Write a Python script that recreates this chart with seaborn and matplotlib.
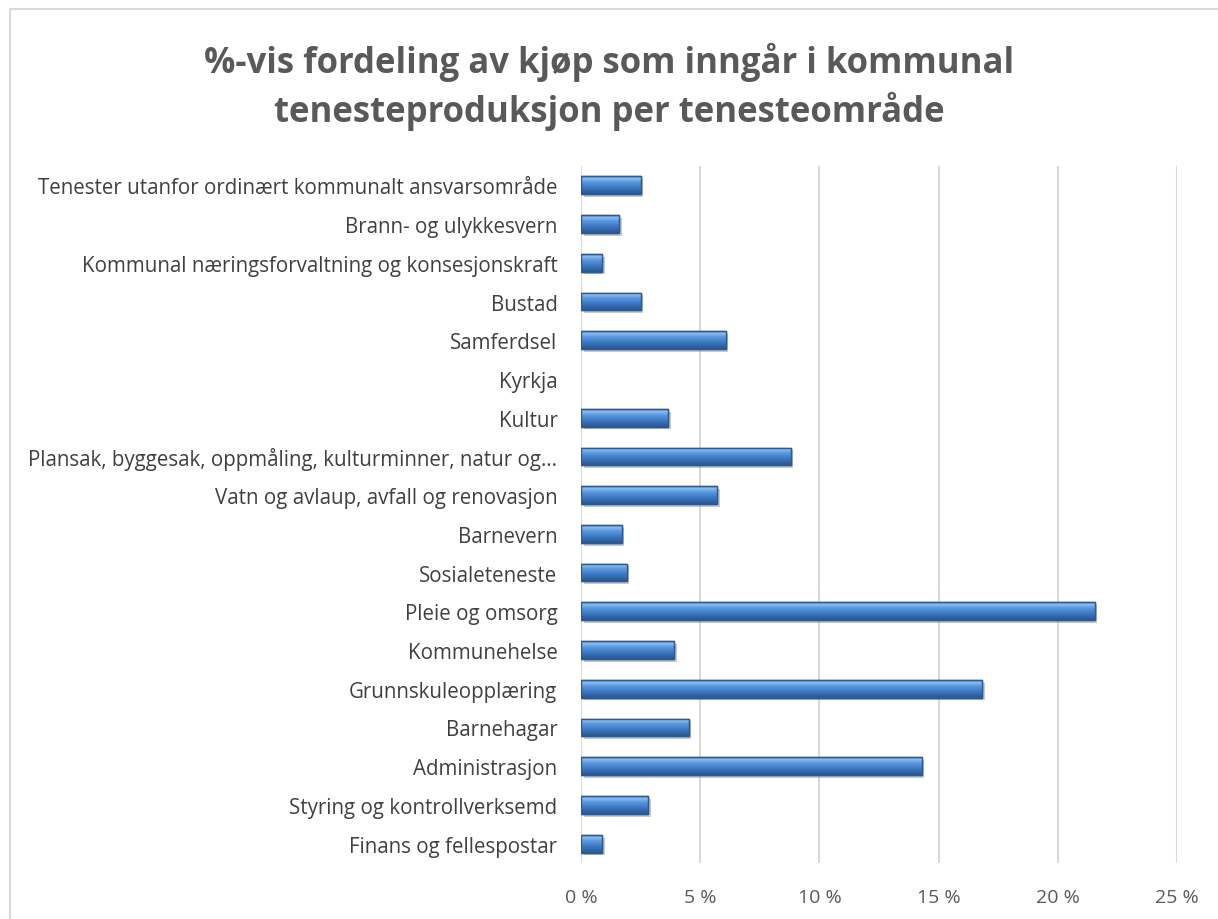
import matplotlib
matplotlib.use("Agg")
import matplotlib.pyplot as plt
import matplotlib.patheffects as pe
from matplotlib.patches import Rectangle
from matplotlib.colors import LinearSegmentedColormap
from matplotlib.ticker import FuncFormatter
import seaborn as sns
import pandas as pd
import numpy as np

categories = [
    "Tenester utanfor ordinært kommunalt ansvarsområde",
    "Brann- og ulykkesvern",
    "Kommunal næringsforvaltning og konsesjonskraft",
    "Bustad",
    "Samferdsel",
    "Kyrkja",
    "Kultur",
    "Plansak, byggesak, oppmåling, kulturminner, natur og…",
    "Vatn og avlaup, avfall og renovasjon",
    "Barnevern",
    "Sosialeteneste",
    "Pleie og omsorg",
    "Kommunehelse",
    "Grunnskuleopplæring",
    "Barnehagar",
    "Administrasjon",
    "Styring og kontrollverksemd",
    "Finans og fellespostar",
]
values = [2.50, 1.59, 0.89, 2.50, 6.07, 0.0, 3.64, 8.79, 5.70, 1.70,
          1.91, 21.54, 3.92, 16.81, 4.51, 14.29, 2.83, 0.89]
x_ticks = [0, 5, 10, 15, 20, 25]
title = "%-vis fordeling av kjøp som inngår i kommunal\ntenesteproduksjon per tenesteområde"

sns.set_theme(style="white")
plt.rcParams["font.family"] = ["Open Sans", "DejaVu Sans"]

df = pd.DataFrame({"cat": categories, "val": values})

fig = plt.figure(figsize=(12.18, 9.2), dpi=100)
ax = fig.add_axes([581 / 1218, 1 - 864 / 920, (1177 - 581) / 1218, (864 - 167) / 920])

sns.barplot(data=df, x="val", y="cat", orient="h", ax=ax, color="#4a86cf",
            width=0.46, edgecolor="#2c5a92", linewidth=1.0, saturation=1)

ax.set_xlim(0, 25)
ylim = ax.get_ylim()

bevel = LinearSegmentedColormap.from_list(
    "bevel", [(0.0, "#3f78c0"), (0.12, "#8cc0f4"), (0.3, "#5e9be0"),
              (0.6, "#3f7cc8"), (1.0, "#2a568e")])
grad = np.linspace(0, 1, 64).reshape(-1, 1)
for p in list(ax.patches):
    w = p.get_width()
    if w <= 0:
        p.set_linewidth(0)
        continue
    p.set_zorder(3)
    p.set_path_effects([pe.SimplePatchShadow(offset=(2, -2), shadow_rgbFace="#888888", alpha=0.45),
                        pe.Normal()])
    x0, y0 = p.get_x(), p.get_y()
    h = p.get_height()
    im = ax.imshow(grad, cmap=bevel, aspect="auto", origin="upper",
                   extent=(x0, x0 + w, y0 + h, y0), zorder=4, interpolation="bilinear")
    im.set_clip_path(p)
    edge = Rectangle((x0, y0), w, h, fill=False, edgecolor="#2c5a92", linewidth=1.0, zorder=5)
    ax.add_patch(edge)

ax.set_xlim(0, 25)
ax.set_ylim(ylim)
ax.set_xticks(x_ticks)
ax.xaxis.set_major_formatter(FuncFormatter(lambda v, _: f"{int(v)} %"))
ax.grid(axis="x", color="#d9d9d9", linewidth=1.5, zorder=0)
ax.set_axisbelow(True)
for s in ax.spines.values():
    s.set_visible(False)
ax.set_xlabel("")
ax.set_ylabel("")
ax.tick_params(axis="y", length=0, pad=17, labelsize=14.8, labelcolor="#404040")
ax.tick_params(axis="x", length=0, pad=18, labelsize=14, labelcolor="#595959")

fig.text(0.5, 1 - 87 / 920, title, ha="center", va="center", fontsize=25,
         fontweight="bold", color="#595959", linespacing=1.33)

fig.add_artist(Rectangle((10 / 1218, -0.05), 1.1, 1 - 10 / 920 + 0.05,
                         transform=fig.transFigure, fill=False,
                         edgecolor="#d9d9d9", linewidth=1.5))

fig.savefig("out.png", dpi=100)
